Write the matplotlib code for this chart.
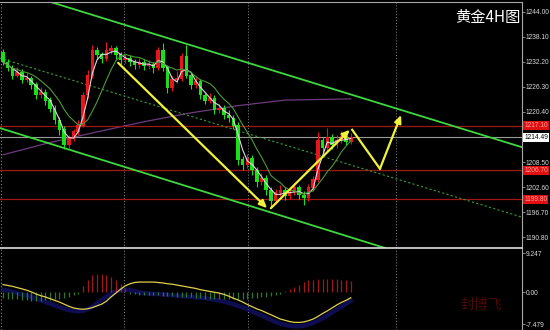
import matplotlib
matplotlib.use("Agg")
import matplotlib.pyplot as plt
import numpy as np
import pandas as pd

# 4H gold candles (price)
opens = [1234.5, 1232.2, 1230.8, 1229.1, 1229.8, 1228.0, 1228.4, 1226.8, 1224.4, 1225.1,
         1223.2, 1221.3, 1218.5, 1216.2, 1212.6, 1214.3, 1215.7, 1217.3, 1224.4, 1229.1,
         1235.0, 1233.9, 1233.1, 1235.0, 1235.5, 1233.9, 1232.7, 1233.1, 1232.2, 1231.5,
         1232.2, 1231.3, 1231.7, 1230.8, 1235.0, 1231.0, 1226.1, 1228.0, 1228.4, 1233.5,
         1229.1, 1226.8, 1227.5, 1224.4, 1223.2, 1223.7, 1220.9, 1221.3, 1219.7, 1219.0,
         1217.3, 1209.1, 1207.9, 1209.5, 1206.7, 1203.9, 1204.8, 1202.0, 1199.6, 1201.3,
         1202.0, 1200.6, 1201.5, 1202.5, 1200.8, 1200.1, 1202.5, 1204.4, 1213.8, 1211.9,
         1214.3, 1212.6, 1213.8, 1214.7, 1213.3]
closes = [1232.2, 1230.8, 1229.1, 1229.8, 1228.0, 1228.4, 1226.8, 1224.4, 1225.1, 1223.2,
          1221.3, 1218.5, 1216.2, 1212.6, 1214.3, 1215.7, 1217.3, 1224.4, 1229.1, 1235.0,
          1233.9, 1233.1, 1235.0, 1235.5, 1233.9, 1232.7, 1233.1, 1232.2, 1231.5, 1232.2,
          1231.3, 1231.7, 1230.8, 1235.0, 1231.0, 1226.1, 1228.0, 1228.4, 1233.5, 1229.1,
          1226.8, 1227.5, 1224.4, 1223.2, 1223.7, 1220.9, 1221.3, 1219.7, 1219.0, 1217.3,
          1209.1, 1207.9, 1209.5, 1206.7, 1203.9, 1204.8, 1202.0, 1199.6, 1201.3, 1202.0,
          1200.6, 1201.5, 1202.5, 1200.8, 1200.1, 1202.5, 1204.4, 1213.8, 1211.9, 1214.3,
          1212.6, 1213.8, 1214.7, 1213.3, 1214.5]
highs = [1235.3, 1233.0, 1231.4, 1231.0, 1230.5, 1229.6, 1229.0, 1227.5, 1226.3, 1225.8,
         1224.0, 1222.0, 1219.3, 1217.0, 1215.0, 1216.4, 1218.6, 1225.2, 1230.3, 1236.3,
         1235.8, 1234.6, 1236.9, 1236.3, 1236.0, 1234.5, 1234.2, 1233.8, 1233.0, 1233.1,
         1232.9, 1232.6, 1232.3, 1235.7, 1236.6, 1231.6, 1229.0, 1230.0, 1234.3, 1236.2,
         1229.8, 1228.6, 1228.1, 1225.0, 1224.8, 1224.3, 1222.4, 1222.0, 1220.8, 1219.8,
         1218.0, 1209.9, 1210.6, 1210.2, 1207.4, 1206.0, 1205.5, 1202.7, 1202.2, 1203.1,
         1202.8, 1202.6, 1203.6, 1203.2, 1201.8, 1203.4, 1205.3, 1215.6, 1214.6, 1216.6,
         1215.2, 1214.9, 1216.0, 1215.3, 1215.4]
lows = [1231.6, 1230.0, 1228.3, 1228.6, 1227.2, 1227.4, 1225.9, 1223.5, 1223.8, 1222.1,
        1220.5, 1217.6, 1215.0, 1211.6, 1212.0, 1213.6, 1215.0, 1216.8, 1223.6, 1228.5,
        1232.8, 1232.0, 1232.5, 1234.2, 1233.0, 1231.8, 1232.0, 1231.2, 1230.6, 1230.9,
        1230.4, 1230.6, 1229.6, 1230.2, 1230.1, 1225.0, 1225.3, 1227.2, 1227.8, 1228.4,
        1225.9, 1226.0, 1223.4, 1222.3, 1222.5, 1220.0, 1220.1, 1218.8, 1218.0, 1216.4,
        1208.0, 1206.8, 1207.2, 1205.6, 1202.8, 1203.2, 1200.9, 1197.7, 1198.8, 1200.5,
        1199.7, 1199.9, 1200.8, 1199.8, 1198.5, 1199.4, 1201.8, 1203.8, 1210.8, 1211.2,
        1211.7, 1212.0, 1213.0, 1212.6, 1212.9]

# long moving average (purple), sampled at a few candles
slow_ma_idx = [0, 10, 20, 30, 40, 50, 60, 74]
slow_ma_val = [1210.3, 1213.2, 1215.7, 1218.1, 1220.2, 1221.9, 1223.2, 1223.5]

# MACD panel
macd_signal = [1.8, 1.6, 1.4, 1.1, 0.8, 0.5, 0.1, -0.4, -0.8, -1.1,
               -1.5, -1.9, -2.3, -2.8, -3.3, -3.7, -3.9, -4.0, -3.9, -3.6,
               -3.2, -2.8, -2.1, -1.1, -0.2, 0.7, 1.5, 2.0, 2.3, 2.4,
               2.4, 2.4, 2.4, 2.3, 2.2, 2.0, 1.9, 1.7, 1.5, 1.3,
               1.1, 0.9, 0.6, 0.4, 0.2, 0.0, -0.2, -0.5, -0.9, -1.4,
               -1.8, -2.3, -2.9, -3.4, -3.9, -4.3, -4.8, -5.3, -5.8, -6.3,
               -6.6, -6.9, -7.1, -7.1, -7.0, -6.7, -6.3, -5.7, -5.0, -4.4,
               -3.7, -3.0, -2.4, -1.9, -1.3]
macd_main = [0.6, 0.4, 0.1, -0.2, -0.5, -0.8, -1.1, -1.5, -1.9, -2.3,
             -2.7, -3.1, -3.5, -3.9, -4.2, -4.4, -4.5, -4.4, -4.0, -3.4,
             -2.6, -1.8, -1.0, -0.3, 0.2, 0.5, 0.6, 0.5, 0.2, 0.0,
             -0.2, -0.3, -0.4, -0.4, -0.5, -0.6, -0.7, -0.8, -0.9, -1.0,
             -1.1, -1.2, -1.3, -1.4, -1.6, -1.8, -2.0, -2.2, -2.5, -2.8,
             -3.2, -3.6, -4.0, -4.5, -5.0, -5.5, -6.0, -6.5, -7.0, -7.4,
             -7.7, -7.9, -8.0, -8.0, -7.9, -7.6, -7.2, -6.7, -6.1, -5.5,
             -4.8, -4.1, -3.4, -2.7, -2.0]
macd_hist = [-1.4, -1.5, -1.6, -1.6, -1.8, -1.9, -2.0, -2.0, -2.0, -1.9,
             -1.8, -1.7, -1.5, -1.3, -1.0, -0.7, -0.3, 1.5, 3.0, 4.0,
             4.3, 4.2, 4.0, 3.5, 2.8, 2.0, 1.0, -0.3, -0.5, -0.6,
             -0.6, -0.6, -0.7, -0.7, -0.8, -0.8, -0.9, -1.0, -1.0, -1.1,
             -1.2, -1.3, -1.4, -1.5, -1.5, -1.6, -1.6, -1.6, -1.6, -1.6,
             -1.6, -1.5, -1.5, -1.4, -1.3, -1.2, -1.0, -0.8, -0.6, -0.4,
             0.3, 0.8, 1.3, 1.8, 2.3, 2.8, 3.0, 3.2, 3.2, 3.2,
             3.2, 3.1, 3.0, 2.9, 2.7]

# drawn analysis objects, (candle index, price)
upper_channel = [(10.0, 1246.4), (110.4, 1212.1)]
lower_channel = [(-0.64, 1216.6), (81.3, 1188.3)]
mid_channel = [(-0.64, 1233.1), (110.4, 1195.6)]
arrow_down = [(24.5, 1232.0), (56.2, 1197.7)]
arrow_up = [(57.0, 1197.7), (73.8, 1216.2)]
forecast = [(74.3, 1216.2), (80.2, 1207.0), (84.7, 1219.7)]
red_levels = [1217.10, 1206.70, 1199.80]
last_price = 1214.49
price_ticks = [1244.00, 1238.10, 1232.20, 1226.30, 1220.40, 1208.50, 1202.60, 1196.70, 1190.80]
macd_ticks = [9.247, 0.0, -7.479]
grid_x = [25.7, 52.1, 83.6]

plt.rcParams["font.family"] = ["Liberation Sans", "DejaVu Sans"]
LABEL_SIZE = 4.8

fig = plt.figure(figsize=(5.5, 3.3), dpi=100, facecolor="black")
ax = fig.add_axes([0, 82 / 330, 522 / 550, 246 / 330])
mx = fig.add_axes([0, 0, 522 / 550, 81 / 330])

xlim = (-0.64, 110.43)
for a in (ax, mx):
    a.set_facecolor("black")
    a.set_xlim(*xlim)
    a.set_xticks([])
    a.yaxis.tick_right()
    a.tick_params(axis="y", colors="#9a9a9a", labelcolor="#d8d8d8",
                  labelsize=LABEL_SIZE, length=2, width=0.6, pad=0.6)
    a.spines["left"].set_visible(False)
    for s in ("right", "top", "bottom"):
        a.spines[s].set_color("#a8a8a8")
        a.spines[s].set_linewidth(0.8)
    for gx in grid_x:
        a.axvline(gx, color="#8a8a8a", lw=0.7, ls=(0, (1, 2)), zorder=0)
    a.axvline(xlim[0] + 0.15, color="#8a8a8a", lw=0.8, ls=(0, (1, 2)), zorder=0)

ax.set_ylim(1188.3, 1246.36)
ax.spines["bottom"].set_color("#e0e0e0")
ax.spines["bottom"].set_linewidth(1.2)
ax.set_yticks(price_ticks)
ax.set_yticklabels([f"{t:.2f}" for t in price_ticks])

x = np.arange(len(closes))
o = np.array(opens)
c = np.array(closes)

# moving averages
fast_ma = pd.Series(c).rolling(3, min_periods=1).mean()
mid_ma = pd.Series(c).rolling(8, min_periods=1).mean()
ax.plot(slow_ma_idx, slow_ma_val, color="#6e3a7e", lw=0.9, zorder=1)

# horizontal levels
for lvl in red_levels:
    ax.axhline(lvl, color="#a01515", lw=0.9, zorder=1)
ax.axhline(last_price, color="#9a9a9a", lw=0.8, zorder=1)

# channel
ax.plot(*zip(*upper_channel), color="#3ed83e", lw=1.3, zorder=2)
ax.plot(*zip(*lower_channel), color="#3ed83e", lw=1.3, zorder=2)
ax.plot(*zip(*mid_channel), color="#3a9a3a", lw=0.8, ls=(0, (2, 2)), zorder=2)

# candles
up = c >= o
col = np.where(up, "#e8151a", "#19e019")
ax.vlines(x, lows, highs, colors=col, lw=0.8, zorder=3)
ax.bar(x, np.abs(c - o) + 0.2, bottom=np.minimum(o, c) - 0.1, width=0.74,
       color=col, zorder=3)

ax.plot(x, fast_ma, color="#e6d6e6", lw=0.8, zorder=4)
ax.plot(x, mid_ma, color="#4f9a35", lw=0.8, zorder=4)

# yellow analysis arrows
arrow_kw = dict(arrowstyle="-|>,head_length=0.45,head_width=0.2",
                color="#f2f23a", lw=1.6, shrinkA=0, shrinkB=0)
ax.annotate("", xy=arrow_down[1], xytext=arrow_down[0], arrowprops=arrow_kw, zorder=5)
ax.annotate("", xy=arrow_up[1], xytext=arrow_up[0], arrowprops=arrow_kw, zorder=5)
ax.plot(*zip(*forecast[:2]), color="#f2f23a", lw=1.6, zorder=5)
ax.annotate("", xy=forecast[2], xytext=forecast[1], arrowprops=arrow_kw, zorder=5)

# price labels on the axis
ytr = ax.get_yaxis_transform()
for lvl in red_levels:
    ax.text(1.004, lvl, f"{lvl:.2f}", transform=ytr, ha="left", va="center",
            fontsize=LABEL_SIZE, color="#ff9a9a", clip_on=False,
            bbox=dict(boxstyle="square,pad=0.15", fc="#e01010", ec="none"))
ax.text(1.004, last_price, f"{last_price:.2f}", transform=ytr, ha="left", va="center",
        fontsize=LABEL_SIZE, color="black", clip_on=False,
        bbox=dict(boxstyle="square,pad=0.15", fc="white", ec="none"))

ax.text(0.997, 0.935, "黄金4H图", transform=ax.transAxes, ha="right", va="center",
        fontsize=11, color="white", family=["Noto Sans CJK SC", "DejaVu Sans"])

# MACD panel
mx.set_ylim(-8.89, 10.19)
mx.spines["top"].set_visible(False)
mx.set_yticks(macd_ticks)
mx.set_yticklabels(["9.247", "0.00", "-7.479"])
h = np.array(macd_hist)
mx.vlines(x, 0, h, colors=np.where(h > 0, "#a01818", "#2a7a2a"), lw=0.9, zorder=2)
mx.plot(x, macd_main, color="#15157a", lw=3.2, alpha=0.65, zorder=1)
mx.plot(x, macd_signal, color="#e0d050", lw=0.9, zorder=3)
mx.text(101.7, -3.0, "封博飞", ha="center", va="center", fontsize=10,
        color="#4a0a0a", style="italic", family=["Noto Sans CJK SC", "DejaVu Sans"])

fig.savefig("out.png", dpi=100, facecolor="black")
